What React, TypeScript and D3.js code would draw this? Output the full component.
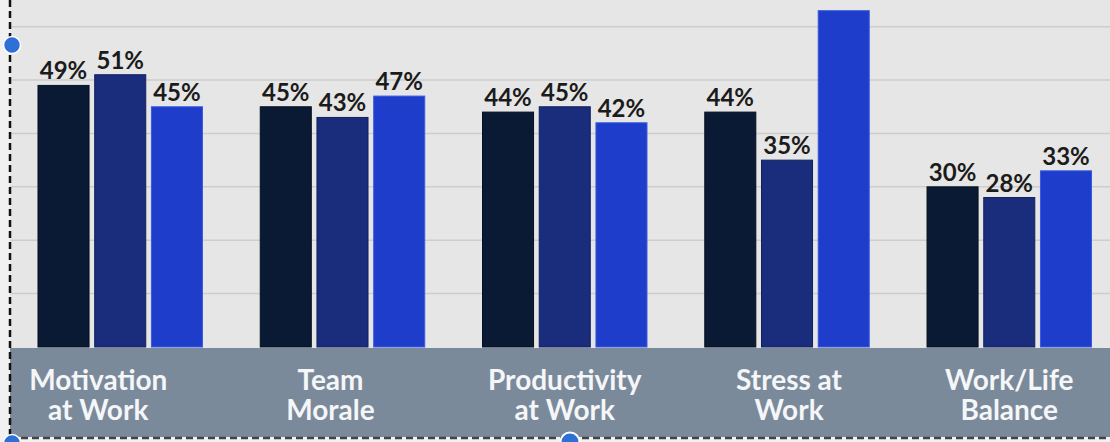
import React from "react";
import * as d3 from "d3";

const categories = [
  ["Motivation", "at Work"],
  ["Team", "Morale"],
  ["Productivity", "at Work"],
  ["Stress at", "Work"],
  ["Work/Life", "Balance"],
];
const seriesNames = ["A", "B", "C"];
const seriesA = [49, 45, 44, 44, 30];
const seriesB = [51, 43, 45, 35, 28];
const seriesC = [45, 47, 42, 63, 33];
const showLabelC = [true, true, true, false, true];
const gridTicks = [10, 20, 30, 40, 50, 60];

const W = 1110;
const H = 442;
const colors = ["#0b1a34", "#1a2c7c", "#1d3dca"];
const strokes = ["#06101f", "#12205e", "#3a5ae0"];
// horizontal nudges of the category text boxes (layout only)
const LABEL_NUDGE = [-22, -12, 0, 2, 0];

export default function App() {
  const values = [seriesA, seriesB, seriesC];
  const baseY = 347;
  const y = d3.scaleLinear().domain([0, 65]).range([baseY, 0]);
  const x0 = d3
    .scaleBand<number>()
    .domain(d3.range(categories.length))
    .range([9.1, 1120.4])
    .paddingInner(0.26)
    .paddingOuter(0.13);
  const x1 = d3
    .scaleBand<number>()
    .domain(d3.range(seriesNames.length))
    .range([0, x0.bandwidth()])
    .paddingInner(0.1)
    .paddingOuter(0);
  const font = "Lato, 'Open Sans', sans-serif";

  return (
    <svg
      width={W}
      height={H}
      style={{ position: "absolute", left: 0, top: 0, display: "block" }}
    >
      <rect x={0} y={0} width={W} height={H} fill="#f1f1f1" />
      <rect x={10} y={0} width={W - 10} height={437} fill="#e6e6e6" />
      {gridTicks.map((t) => (
        <line
          key={t}
          x1={10}
          x2={W}
          y1={y(t)}
          y2={y(t)}
          stroke="#cdcdcd"
          strokeWidth={1.5}
        />
      ))}
      {categories.map((c, i) => (
        <g key={i} transform={`translate(${x0(i)},0)`}>
          {values.map((vals, s) => {
            const v = vals[i];
            const bx = x1(s)!;
            const bw = x1.bandwidth();
            return (
              <g key={s}>
                <rect
                  x={bx}
                  y={y(v)}
                  width={bw}
                  height={baseY - y(v)}
                  fill={colors[s]}
                  stroke={strokes[s]}
                  strokeWidth={1}
                />
                {(s !== 2 || showLabelC[i]) && (
                  <text
                    x={bx + bw / 2}
                    y={y(v) - 6}
                    textAnchor="middle"
                    fontFamily={font}
                    fontWeight={700}
                    fontSize={24}
                    fill="#1b1b1b"
                  >
                    {v}%
                  </text>
                )}
              </g>
            );
          })}
        </g>
      ))}
      <rect x={10} y={baseY + 1} width={W - 10} height={89} fill="#7b8a9b" />
      {categories.map((c, i) => {
        const cx = x0(i)! + x0.bandwidth() / 2 + LABEL_NUDGE[i];
        return (
          <text
            key={i}
            x={cx}
            textAnchor="middle"
            fontFamily={font}
            fontWeight={700}
            fontSize={28}
            fill="#f4f6f8"
          >
            <tspan x={cx} y={390}>
              {c[0]}
            </tspan>
            <tspan x={cx} y={420}>
              {c[1]}
            </tspan>
          </text>
        );
      })}
      <line
        x1={10}
        x2={10}
        y1={0}
        y2={438}
        stroke="#111"
        strokeWidth={2.5}
        strokeDasharray="7 4"
      />
      <line
        x1={10}
        x2={W}
        y1={438}
        y2={438}
        stroke="#444"
        strokeWidth={2.5}
        strokeDasharray="7 4"
      />
      <circle cx={12} cy={45} r={8.5} fill="#2f6fd6" stroke="#fff" strokeWidth={1.5} />
      <circle cx={12} cy={443} r={8.5} fill="#2f6fd6" stroke="#fff" strokeWidth={1.5} />
      <circle cx={570} cy={442} r={9.5} fill="#2f6fd6" stroke="#fff" strokeWidth={2} />
    </svg>
  );
}
